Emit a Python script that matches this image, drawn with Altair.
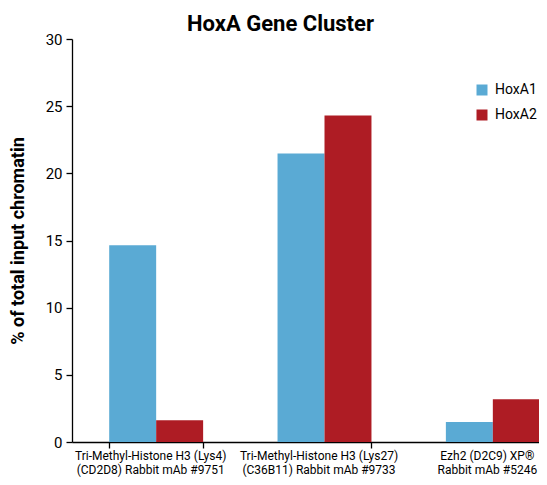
import altair as alt
import pandas as pd

categories = [
    "Tri-Methyl-Histone H3 (Lys4)\n(CD2D8) Rabbit mAb #9751",
    "Tri-Methyl-Histone H3 (Lys27)\n(C36B11) Rabbit mAb #9733",
    "Ezh2 (D2C9) XP\u00ae\nRabbit mAb #5246",
]
series = ["HoxA1", "HoxA2"]
hoxa1 = [14.64, 21.48, 1.49]
hoxa2 = [1.61, 24.31, 3.18]
colors = ["#5AAAD4", "#AE1C24"]

FONT = "Roboto"

rows = []
for i, c in enumerate(categories):
    rows.append({"cat": c, "series": "HoxA1", "value": hoxa1[i]})
    rows.append({"cat": c, "series": "HoxA2", "value": hoxa2[i]})
df = pd.DataFrame(rows)

chart = alt.Chart(df).mark_bar().encode(
    x=alt.X("cat:N", sort=categories,
            scale=alt.Scale(range=[0, 505], paddingInner=0.442, paddingOuter=0.221),
            axis=alt.Axis(orient="bottom", title=None, tickBand="extent",
                          labelAngle=0, labelExpr="split(datum.label, '\\n')",
                          labelFont=FONT, labelFontSize=12, labelColor="#000",
                          labelPadding=2, labelLineHeight=14, tickSize=6,
                          tickColor="#000", domainColor="#000", labelLimit=300,
                          labelBaseline="top", labelOffset=-6)),
    xOffset=alt.XOffset("series:N", sort=series, scale=alt.Scale(paddingInner=0, paddingOuter=0)),
    y=alt.Y("value:Q", scale=alt.Scale(domain=[0, 30], nice=False),
            axis=alt.Axis(values=[0, 5, 10, 15, 20, 25, 30], format="d", grid=False,
                          title="% of total input chromatin", titleFontSize=18,
                          titleFontWeight="bold", titleFont=FONT,
                          titleX=-54, titleY=201.5, titleAngle=-90,
                          titleAlign="center", titleBaseline="middle",
                          labelFont=FONT, labelFontSize=15, labelColor="#000",
                          labelPadding=4, tickSize=6, tickColor="#000",
                          domainColor="#000", titleColor="#000")),
    color=alt.Color("series:N", sort=series,
                    scale=alt.Scale(domain=series, range=colors),
                    legend=alt.Legend(title=None, orient="none", legendX=403, legendY=44,
                                      symbolType="square", symbolSize=121,
                                      symbolStrokeWidth=0, labelFont=FONT,
                                      labelFontSize=14, labelColor="#000",
                                      rowPadding=11, padding=0, labelOffset=6)),
).properties(
    width=467, height=403,
    autosize=alt.AutoSizeParams(type="none"),
    padding={"left": 64, "top": 31, "right": 0, "bottom": 35},
    title=alt.TitleParams("HoxA Gene Cluster", font=FONT, fontSize=22,
                          fontWeight="bold", color="#000", anchor="middle",
                          dx=-25, dy=11, offset=7),
).configure_view(stroke=None).configure_axis(domainWidth=1.3, tickWidth=1.3)

chart.save("out.html", embed_options={"renderer": "svg", "actions": False})
